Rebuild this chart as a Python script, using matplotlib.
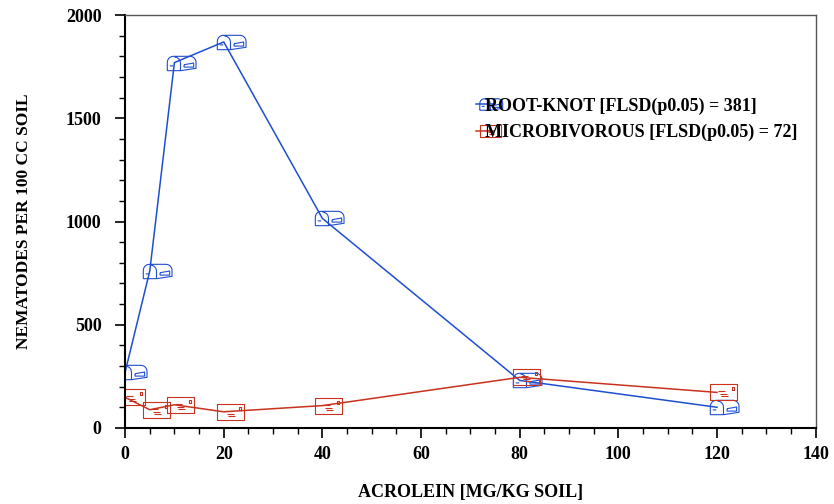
import numpy as np
import matplotlib
matplotlib.use("Agg")
import matplotlib.pyplot as plt
from matplotlib.path import Path
from matplotlib.ticker import MultipleLocator

# acrolein dose (mg/kg soil)
acrolein = [0, 5, 10, 20, 40, 80, 120]
root_knot = [270, 760, 1770, 1870, 1015, 230, 100]
microbivorous = [148, 88, 112, 78, 108, 245, 172]

labels = ["ROOT-KNOT [FLSD(p0.05) = 381]", "MICROBIVOROUS [FLSD(p0.05) = 72]"]

BLUE = "#1f4fd0"
RED = "#c8321e"

plt.rcParams["font.family"] = ["Liberation Serif", "DejaVu Serif"]
plt.rcParams["font.weight"] = "bold"


def mailbox_marker():
    # rough mailbox glyph, sits to the right of the data point
    verts, codes = [], []
    t = np.linspace(np.pi, np.pi / 2, 6)
    outer = [(-0.3, -0.3), (-0.3, 0.05)]
    outer += [(-0.05 + 0.25 * np.cos(a), 0.05 + 0.25 * np.sin(a)) for a in t]
    t2 = np.linspace(np.pi / 2, 0, 6)
    outer += [(0.65 + 0.25 * np.cos(a), 0.05 + 0.25 * np.sin(a)) for a in t2]
    outer += [(0.9, -0.2), (0.25, -0.3), (-0.3, -0.3)]
    verts += outer
    codes += [Path.MOVETO] + [Path.LINETO] * (len(outer) - 1)
    door = [(0.25, -0.3), (0.25, 0.02)]
    door += [(0.0 + 0.25 * np.cos(a), 0.02 + 0.25 * np.sin(a)) for a in np.linspace(0, np.pi / 2, 5)]
    verts += door
    codes += [Path.MOVETO] + [Path.LINETO] * (len(door) - 1)
    flag = [(0.4, -0.05), (0.8, 0.02), (0.8, -0.15), (0.4, -0.15), (0.4, -0.05)]
    verts += flag
    codes += [Path.MOVETO] + [Path.LINETO] * 4
    verts += [(-0.2, -0.1), (-0.05, -0.1)]
    codes += [Path.MOVETO, Path.LINETO]
    return Path(verts, codes)


def envelope_marker():
    verts, codes = [], []
    box = [(-0.3, -0.35), (0.9, -0.35), (0.9, 0.35), (-0.3, 0.35), (-0.3, -0.35)]
    verts += box
    codes += [Path.MOVETO] + [Path.LINETO] * 4
    for i, (x0, x1) in enumerate([(0.05, 0.35), (0.15, 0.45), (0.2, 0.5)]):
        y = 0.05 - i * 0.12
        verts += [(x0, y), (x1, y)]
        codes += [Path.MOVETO, Path.LINETO]
    stamp = [(0.65, 0.1), (0.78, 0.1), (0.78, 0.24), (0.65, 0.24), (0.65, 0.1)]
    verts += stamp
    codes += [Path.MOVETO] + [Path.LINETO] * 4
    return Path(verts, codes)


fig = plt.figure(figsize=(8.34, 5.04), dpi=100)
ax = fig.add_axes([0.150, 0.151, 0.828, 0.819])

ax.plot(acrolein, root_knot, color=BLUE, lw=1.1, marker=mailbox_marker(),
        markersize=31, markerfacecolor="none", markeredgecolor=BLUE,
        markeredgewidth=0.8, label=labels[0])
ax.plot(acrolein, microbivorous, color=RED, lw=1.1, marker=envelope_marker(),
        markersize=29, markerfacecolor="none", markeredgecolor=RED,
        markeredgewidth=0.8, label=labels[1])

ax.set_xlim(0, 140)
ax.set_ylim(0, 2000)
ax.xaxis.set_major_locator(MultipleLocator(20))
ax.xaxis.set_minor_locator(MultipleLocator(5))
ax.yaxis.set_major_locator(MultipleLocator(500))
ax.yaxis.set_minor_locator(MultipleLocator(100))
ax.tick_params(which="major", direction="out", length=7, width=1.2, labelsize=13, pad=6)
ax.tick_params(axis="y", which="major", pad=10)
ax.tick_params(which="minor", direction="out", length=4, width=1.0)
ax.tick_params(top=False, right=False)

for side in ["left", "bottom"]:
    ax.spines[side].set_linewidth(1.5)
    ax.spines[side].set_color("black")
for side in ["top", "right"]:
    ax.spines[side].set_linewidth(1.0)
    ax.spines[side].set_color("#555555")

ax.set_xlabel("ACROLEIN [MG/KG SOIL]", fontsize=13, fontweight="bold", labelpad=15)
ax.set_ylabel("NEMATODES PER 100 CC SOIL", fontsize=12.5, fontweight="bold", labelpad=24)

ax.legend(loc="upper left", bbox_to_anchor=(0.485, 0.84), frameon=False, fontsize=13,
          handlelength=1.0, handletextpad=-0.5, labelspacing=0.5, markerscale=0.8)

fig.savefig("out.png", dpi=100)
